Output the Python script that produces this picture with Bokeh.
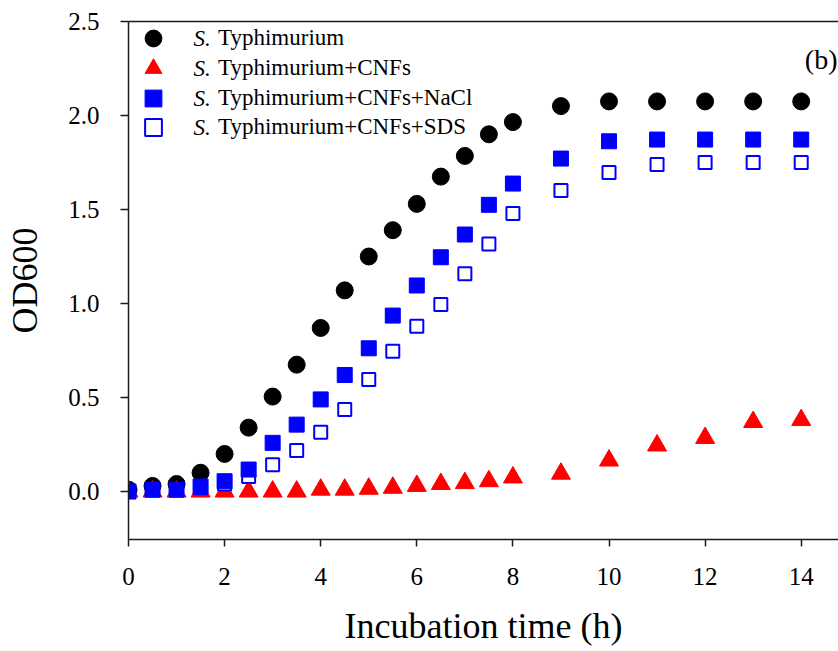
from bokeh.plotting import figure
from bokeh.models import (Range1d, LinearAxis, FixedTicker, Legend, LegendItem,
                          Label, PrintfTickFormatter)
from bokeh.embed import file_html
from bokeh.resources import INLINE

# ---- data ----
time_h = [0, 0.5, 1, 1.5, 2, 2.5, 3, 3.5, 4, 4.5, 5, 5.5, 6, 6.5, 7, 7.5, 8,
          9, 10, 11, 12, 13, 14]
typh = [0.01, 0.03, 0.04, 0.10, 0.20, 0.34, 0.505, 0.675, 0.87, 1.07, 1.25, 1.39,
        1.53, 1.675, 1.785, 1.90, 1.965, 2.05, 2.075, 2.075, 2.075, 2.075, 2.075]
typh_cnfs = [0, 0, 0, 0, 0, 0, 0, 0, 0.01, 0.01, 0.015, 0.02, 0.03, 0.04, 0.045,
             0.055, 0.075, 0.095, 0.165, 0.245, 0.285, 0.37, 0.38]
typh_cnfs_nacl = [0.0, 0.01, 0.01, 0.027, 0.055, 0.117, 0.259, 0.356, 0.49, 0.62,
                  0.762, 0.936, 1.096, 1.246, 1.367, 1.525, 1.638, 1.771, 1.863,
                  1.872, 1.872, 1.872, 1.872]
typh_cnfs_sds = [0.0, 0.01, 0.01, 0.02, 0.04, 0.08, 0.142, 0.218, 0.316, 0.436,
                 0.596, 0.746, 0.879, 0.995, 1.158, 1.317, 1.479, 1.601, 1.697,
                 1.739, 1.75, 1.75, 1.75]
series_labels = ["Typhimurium", "Typhimurium+CNFs", "Typhimurium+CNFs+NaCl",
                 "Typhimurium+CNFs+SDS"]
x_ticks = [0, 2, 4, 6, 8, 10, 12, 14]
y_ticks = [0.0, 0.5, 1.0, 1.5, 2.0, 2.5]

FONT = "Liberation Serif"
AX = "#1a1a1a"

p = figure(width=838, height=651, output_backend="svg", toolbar_location=None,
           x_range=Range1d(0, 14.776), y_range=Range1d(-0.255, 2.5),
           min_border_left=128, min_border_right=0, min_border_top=21,
           min_border_bottom=112)
p.outline_line_color = None
p.grid.visible = False
p.background_fill_color = "white"

# axes
for ax in (p.xaxis[0], p.yaxis[0]):
    ax.axis_line_color = AX
    ax.axis_line_width = 1.5
    ax.major_tick_line_color = AX
    ax.major_tick_line_width = 1.5
    ax.major_tick_in = 0
    ax.minor_tick_line_color = None
    ax.major_label_text_font = FONT
    ax.major_label_text_font_size = "25px"
    ax.major_label_text_color = "black"
    ax.axis_label_text_font = FONT
    ax.axis_label_text_font_style = "normal"
    ax.axis_label_text_font_size = "36px"
    ax.axis_label_text_color = "black"

p.xaxis.ticker = FixedTicker(ticks=x_ticks)
p.xaxis.major_tick_out = 7
p.xaxis.major_label_standoff = 21
p.xaxis.bounds = (0, 100)
p.xaxis.axis_label = "Incubation time (h)"
p.xaxis.axis_label_standoff = 18
p.xaxis.axis_label_text_line_height = 1.0

p.yaxis.ticker = FixedTicker(ticks=y_ticks)
p.yaxis.formatter = PrintfTickFormatter(format="%.1f")
p.yaxis.major_tick_out = 8
p.yaxis.major_label_standoff = 21
p.yaxis.axis_label = "OD600"
p.yaxis.axis_label_standoff = 20

top_axis = LinearAxis(ticker=FixedTicker(ticks=[]), major_tick_out=0, major_tick_in=0,
                      minor_tick_out=0, minor_tick_in=0,
                      major_label_text_font_size="0px",
                      axis_line_color=AX, axis_line_width=1.5)
p.add_layout(top_axis, "above")

# data
r_typh = p.scatter(time_h, typh, marker="circle", size=17, color="black")
r_cnfs = p.scatter(time_h, typh_cnfs, marker="triangle", size=19, color="#ff0000")
r_sds = p.scatter(time_h, typh_cnfs_sds, marker="square", size=13,
                  fill_color="white", line_color="#0000ff", line_width=2)
r_nacl = p.scatter(time_h, typh_cnfs_nacl, marker="square", size=15, color="#0000ff")

renderers = [r_typh, r_cnfs, r_nacl, r_sds]
legend_bottoms = [480, 450, 420, 391]
for lab, rend, vy in zip(series_labels, renderers, legend_bottoms):
    lg = Legend(items=[LegendItem(label=lab, renderers=[rend])],
                location=(4, vy), orientation="vertical",
                glyph_width=42, glyph_height=42, label_height=20,
                padding=0, margin=0, label_standoff=44,
                label_text_font=FONT, label_text_font_size="23px",
                label_text_color="black",
                background_fill_alpha=0, border_line_color=None)
    p.add_layout(lg)
    p.add_layout(Label(x=65, y=vy + 21, x_units="screen", y_units="screen",
                       text="S.", text_font=FONT, text_font_style="italic",
                       text_font_size="23px", text_baseline="middle",
                       text_align="left", text_color="black"))

p.add_layout(Label(x=709, y=480, x_units="screen", y_units="screen",
                   text="(b)", text_font=FONT, text_font_size="28px",
                   text_align="right", text_baseline="middle", text_color="black"))

open("out.html", "w").write(file_html(p, INLINE))
